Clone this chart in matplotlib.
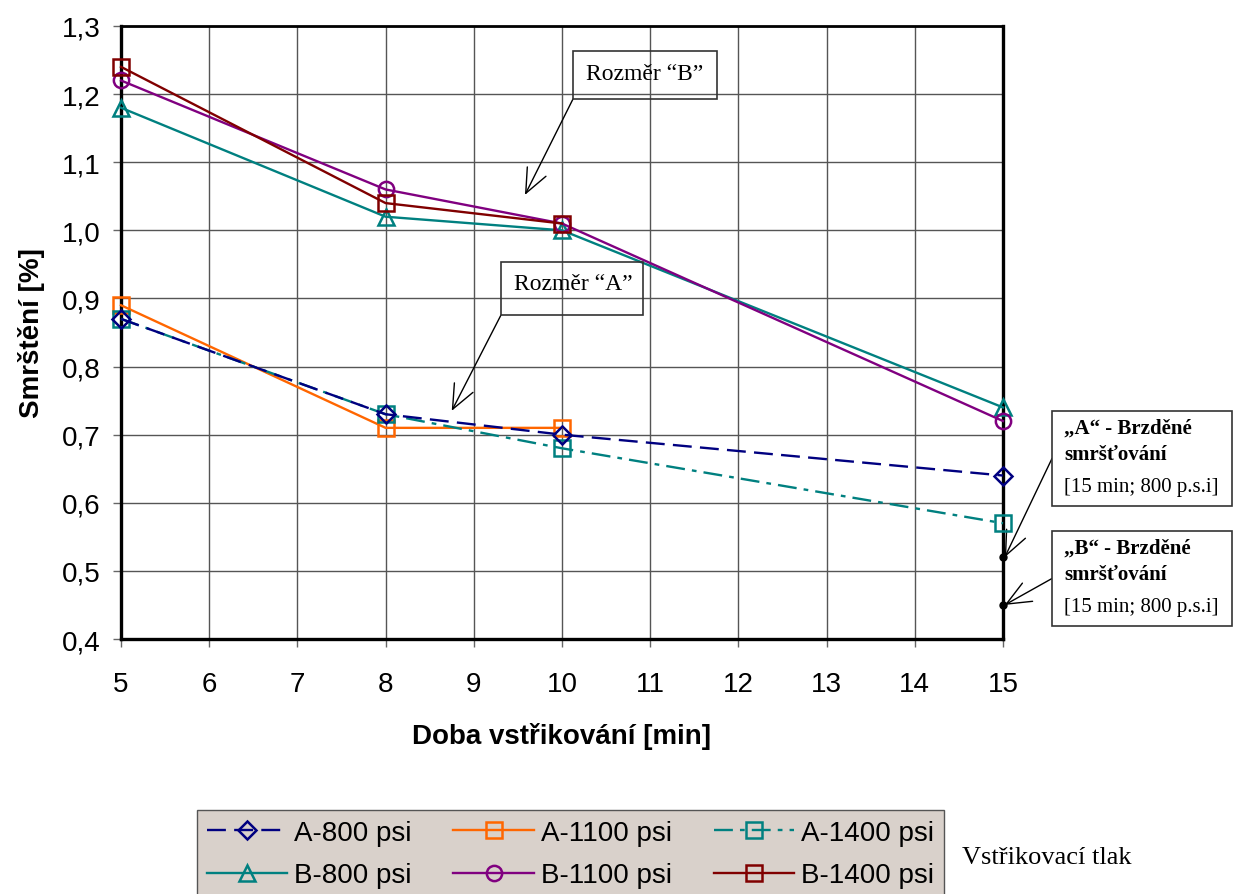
import matplotlib
matplotlib.use("Agg")
import matplotlib.pyplot as plt
from matplotlib.patches import Rectangle

# data
x_full = [5, 8, 10, 15]
x_short = [5, 8, 10]
a800 = [0.87, 0.73, 0.70, 0.64]
a1100 = [0.89, 0.71, 0.71]
a1400 = [0.87, 0.73, 0.68, 0.57]
b800 = [1.18, 1.02, 1.00, 0.74]
b1100 = [1.22, 1.06, 1.01, 0.72]
b1400 = [1.24, 1.04, 1.01]
brzd_x = [15, 15]
brzd_y = [0.52, 0.45]

yticks = [0.4, 0.5, 0.6, 0.7, 0.8, 0.9, 1.0, 1.1, 1.2, 1.3]
ytick_labels = ["0,4", "0,5", "0,6", "0,7", "0,8", "0,9", "1,0", "1,1", "1,2", "1,3"]
xticks = list(range(5, 16))

plt.rcParams['font.family'] = ['Liberation Sans', 'DejaVu Sans']
serif = ['Liberation Serif', 'DejaVu Serif']

W, H = 1234, 895
fig = plt.figure(figsize=(W / 100, H / 100), dpi=100)
ax = fig.add_axes([121 / W, 1 - 640 / H, (1003 - 121) / W, (640 - 27) / H])


def px(x, y):
    # figure pixel (from top-left) -> figure fraction
    return (x / W, 1 - y / H)


ms = 11
lw = 1.7
mew = 1.8
l1, = ax.plot(x_full, a800, color='#000080', ls=(0, (8, 3.5)), lw=lw, marker='D', ms=9,
              mfc='none', mew=mew, label='A-800 psi', zorder=5, clip_on=False)
l2, = ax.plot(x_short, a1100, color='#ff6600', ls='-', lw=lw, marker='s', ms=ms,
              mfc='none', mew=mew, label='A-1100 psi', zorder=4, clip_on=False)
l3, = ax.plot(x_full, a1400, color='#008080', ls=(0, (8, 3, 2, 3)), lw=lw, marker='s', ms=ms,
              mfc='none', mew=mew, label='A-1400 psi', zorder=4, clip_on=False)
l4, = ax.plot(x_full, b800, color='#008080', ls='-', lw=lw, marker='^', ms=ms,
              mfc='none', mew=mew, label='B-800 psi', zorder=4, clip_on=False)
l5, = ax.plot(x_full, b1100, color='#800080', ls='-', lw=lw, marker='o', ms=ms,
              mfc='none', mew=mew, label='B-1100 psi', zorder=4, clip_on=False)
l6, = ax.plot(x_short, b1400, color='#800000', ls='-', lw=lw, marker='s', ms=ms,
              mfc='none', mew=mew, label='B-1400 psi', zorder=4, clip_on=False)
ax.plot(brzd_x, brzd_y, ls='none', marker='o', ms=5, color='black', zorder=6, clip_on=False)

ax.set_xlim(5, 15)
ax.set_ylim(0.4, 1.3)
ax.set_xticks(xticks)
ax.set_yticks(yticks)
ax.set_yticklabels(ytick_labels)
ax.tick_params(labelsize=20, length=6, width=1, color='#666666', direction='out', pad=8.5)
ax.tick_params(axis='x', pad=17)
ax.grid(True, color='#555555', lw=1)
ax.set_axisbelow(True)
for side in ['left', 'bottom', 'right']:
    ax.spines[side].set_linewidth(2.4)
ax.spines['top'].set_linewidth(2)

ax.set_xlabel('Doba vstřikování [min]', fontsize=20, fontweight='bold', labelpad=18)
ax.set_ylabel('Smrštění [%]', fontsize=20, fontweight='bold', labelpad=12)

arrowprops = dict(arrowstyle='->,head_length=0.7,head_width=0.3', color='black', lw=1,
                  mutation_scale=25, shrinkA=0, shrinkB=0)

# "Rozměr" callouts (transparent boxes)
for (bx0, by0, bx1, by1), label, target in [
        ((573, 52, 717, 100), 'Rozměr \u201cB\u201d', (9.58, 1.052)),
        ((501, 263, 643, 316), 'Rozměr \u201cA\u201d', (8.75, 0.735))]:
    fig.patches.append(Rectangle(px(bx0, by1), (bx1 - bx0) / W, (by1 - by0) / H,
                                 transform=fig.transFigure, fill=False, ec='#333333', lw=1.2))
    fig.text(*px(bx0 + 13, by0 + 22), label, family=serif, fontsize=17, ha='left', va='center')
    ax.annotate('', xy=target, xycoords='data', xytext=px(bx0, by1),
                textcoords='figure fraction', arrowprops=arrowprops)

# "Brzděné smršťování" callouts
for (bx0, by0, bx1, by1), letter, target in [
        ((1052, 412, 1232, 507), 'A', (15.02, 0.52)),
        ((1052, 532, 1232, 627), 'B', (15.02, 0.45))]:
    fig.patches.append(Rectangle(px(bx0, by1), (bx1 - bx0) / W, (by1 - by0) / H,
                                 transform=fig.transFigure, fc='white', ec='#333333', lw=1.2))
    fig.text(*px(bx0 + 12, by0 + 17), '\u201e' + letter + '\u201c - Brzděné', family=serif,
             fontsize=15, fontweight='bold', ha='left', va='center')
    fig.text(*px(bx0 + 12, by0 + 43), 'smršťování', family=serif,
             fontsize=15, fontweight='bold', ha='left', va='center')
    fig.text(*px(bx0 + 12, by0 + 76), '[15 min; 800 p.s.i]', family=serif,
             fontsize=15, ha='left', va='center')
    ax.annotate('', xy=target, xycoords='data', xytext=px(bx0, (by0 + by1) / 2),
                textcoords='figure fraction', arrowprops=arrowprops, annotation_clip=False)

# legend filled row by row: A-series on top, B-series below
leg = fig.legend(handles=[l1, l4, l2, l5, l3, l6], loc='upper left', bbox_to_anchor=px(197, 811),
                 ncol=3, fontsize=20, frameon=True, fancybox=False, handlelength=2.9,
                 handletextpad=0.25, columnspacing=1.5, borderpad=0.35, labelspacing=0.6,
                 borderaxespad=0)
leg.get_frame().set_facecolor('#d9d1cb')
leg.get_frame().set_edgecolor('#555555')
leg.get_frame().set_alpha(1)

fig.text(*px(962, 858), 'Vstřikovací tlak', family=serif, fontsize=19, ha='left', va='center')

fig.savefig('out.png', dpi=100)
